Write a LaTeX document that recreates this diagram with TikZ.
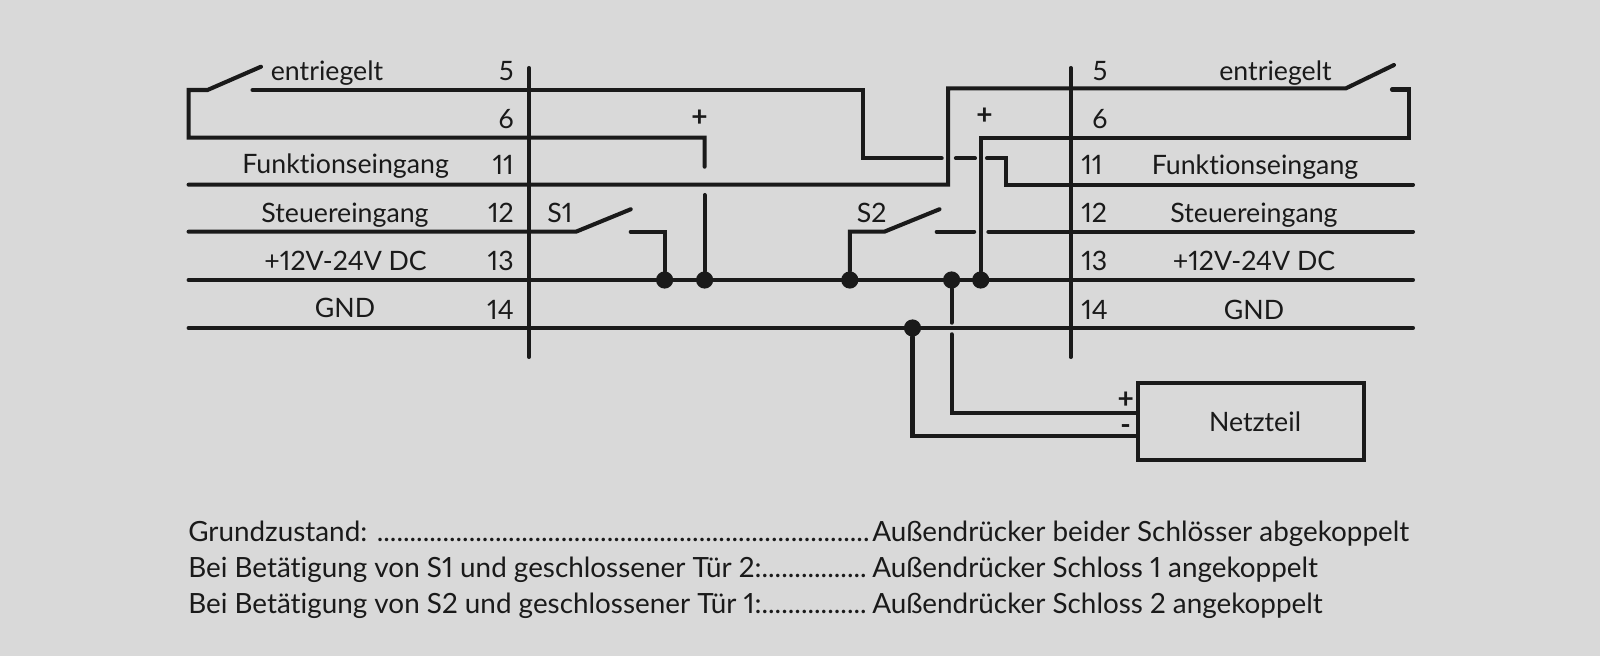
\documentclass[tikz,border=0pt]{standalone}
\usepackage{fontspec}
\setmainfont[Ligatures=NoCommon,Numbers=Proportional]{Lato}
\usepackage{tikz}
\definecolor{bggray}{HTML}{D9D9D9}
\definecolor{wirecol}{HTML}{1A1A1A}
\tikzset{
  wire/.style={line width=2.9pt,wirecol,line cap=round,line join=miter},
  jdot/.style={circle,fill=wirecol,inner sep=0pt,minimum size=0.43cm},
  lbl/.style={anchor=base,inner sep=0pt,text=wirecol,font=\fontsize{19}{22}\selectfont},
  row/.style={anchor=base west,inner sep=0pt,text=wirecol,font=\fontsize{19.8}{22}\selectfont},
  sign/.style={inner sep=0pt,text=wirecol,font=\bfseries\fontsize{20}{22}\selectfont},
}
\begin{document}
\begin{tikzpicture}[x=0.025cm,y=-0.025cm]
            % Define the wire rows
            \def\xL{188.6}
            \def\xR{1413}
            \def\rA{90}
            \def\rB{137.7}
            \def\rC{184.7}
            \def\rD{231.7}
            \def\rE{280}
            \def\rF{328}

            % Background
            \fill[bggray] (0,0) rectangle (1600,656);
            \useasboundingbox (0,0) rectangle (1600,656);

            % Junctions
            \node[jdot] (D1) at (664.6,\rE) {};
            \node[jdot] (D2) at (704.6,\rE) {};
            \node[jdot] (D3) at (849.8,\rE) {};
            \node[jdot] (D4) at (951.6,\rE) {};
            \node[jdot] (D5) at (980.7,\rE) {};
            \node[jdot] (D6) at (912.5,\rF) {};

            % Power supply
            \node[draw=wirecol,line width=3pt,minimum width=5.65cm,minimum height=1.925cm,inner sep=0pt] (NT) at (1251,421.8) {};
            \node[lbl] (NTtext) at (1255,431) {Netzteil};
            \coordinate (Pplus) at (NT.west |- 0,413.3);
            \coordinate (Pminus) at (NT.west |- 0,436.3);

            % End points of the rails
            \coordinate (BL1) at (529,68);
            \coordinate (BL2) at (529,357);
            \coordinate (BR1) at (1070.7,68);
            \coordinate (BR2) at (1070.7,357);
            \coordinate (E0) at (\xL,\rE);
            \coordinate (E1) at (\xR,\rE);
            \coordinate (F0) at (\xL,\rF);
            \coordinate (F1) at (\xR,\rF);

            % Draw the terminal bars and the supply rails
            \draw[wire] (BL1) -- (BL2);
            \draw[wire] (BR1) -- (BR2);
            \draw[wire] (E0) -- (E1);
            \draw[wire] (F0) -- (F1);

            % Left lock: switch and row 6 up to S1 side
            \coordinate (A0) at (252.5,\rA);
            \coordinate (A1) at (863,\rA);
            \coordinate (A2) at (863,158.3);
            \coordinate (A3) at (941.7,158.3);
            \coordinate (A4) at (955.9,158.3);
            \coordinate (A5) at (975,158.3);
            \coordinate (A6) at (987,158.3);
            \coordinate (A7) at (1005.6,158.3);
            \coordinate (A8) at (1005.6,\rC);
            \coordinate (A9) at (\xR,\rC);
            \draw[wire] (A0) -- (A1) -- (A2) -- (A3);
            \draw[wire] (A4) -- (A5);
            \draw[wire] (A6) -- (A7) -- (A8) -- (A9);

            \coordinate (B0) at (261,66.7);
            \coordinate (B1) at (207.5,\rA);
            \coordinate (B2) at (\xL,\rA);
            \coordinate (B3) at (\xL,\rB);
            \coordinate (B4) at (704.6,\rB);
            \coordinate (B5) at (704.6,166.7);
            \coordinate (B6) at (704.6,195);
            \draw[wire] (B0) -- (B1) -- (B2) -- (B3) -- (B4) -- (B5);
            \draw[wire] (B6) -- (D2);

            % Right lock
            \coordinate (G0) at (\xL,\rC);
            \coordinate (G1) at (948.2,\rC);
            \coordinate (G2) at (948.2,88.3);
            \coordinate (G3) at (1346,88.3);
            \coordinate (G4) at (1394,65);
            \draw[wire] (G0) -- (G1) -- (G2) -- (G3) -- (G4);

            \coordinate (H0) at (1392,89.5);
            \coordinate (H1) at (1409.3,89.5);
            \coordinate (H2) at (1409.3,\rB);
            \coordinate (H3) at (980.7,\rB);
            \draw[wire] (H0) -- (H1) -- (H2) -- (H3) -- (D5);

            % Draw S1
            \coordinate (S0) at (\xL,\rD);
            \coordinate (S1) at (576,\rD);
            \coordinate (S2) at (630.7,209.3);
            \coordinate (S3) at (630.7,\rD);
            \coordinate (S4) at (664.6,\rD);
            \draw[wire] (S0) -- (S1) -- (S2);
            \draw[wire] (S3) -- (S4) -- (D1);

            % Draw S2
            \coordinate (T0) at (849.8,\rD);
            \coordinate (T1) at (884.3,\rD);
            \coordinate (T2) at (939.4,209.3);
            \coordinate (T3) at (936.7,\rD);
            \coordinate (T4) at (974.2,\rD);
            \coordinate (T5) at (988.4,\rD);
            \coordinate (T6) at (\xR,\rD);
            \draw[wire] (D3) -- (T0) -- (T1) -- (T2);
            \draw[wire] (T3) -- (T4);
            \draw[wire] (T5) -- (T6);

            % Draw supply feed
            \coordinate (U0) at (951.6,322.7);
            \coordinate (U1) at (951.6,334.3);
            \draw[wire] (D4) -- (U0);
            \draw[wire] (U1) -- (U1 |- Pplus) -- (Pplus);
            \draw[wire] (D6) -- (D6 |- Pminus) -- (Pminus);

            % Left labels
            \node[lbl] (l1) at (327,81) {entriegelt};
            \node[lbl] (l2) at (345.6,173.7) {Funktionseingang};
            \node[lbl] (l3) at (345,222.2) {Steuereingang};
            \node[lbl] (l4) at (345.6,270) {+12V-24V DC};
            \node[lbl] (l5) at (345,318) {GND};

            % Left numbers
            \node[lbl,anchor=base east] (n1) at (514,81) {5};
            \node[lbl,anchor=base east] (n2) at (514,128.7) {6};
            \node[lbl,anchor=base east] (n3) at (514,175) {11};
            \node[lbl,anchor=base east] (n4) at (514,223) {12};
            \node[lbl,anchor=base east] (n5) at (514,270) {13};
            \node[lbl,anchor=base east] (n6) at (514,319) {14};

            % Right labels
            \node[lbl] (r1) at (1275.5,81) {entriegelt};
            \node[lbl] (r2) at (1255,174.3) {Funktionseingang};
            \node[lbl] (r3) at (1254,223) {Steuereingang};
            \node[lbl] (r4) at (1254,270) {+12V-24V DC};
            \node[lbl] (r5) at (1254,319) {GND};

            % Right numbers
            \node[lbl] (m1) at (1100,81) {5};
            \node[lbl] (m2) at (1100,128.7) {6};
            \node[lbl,anchor=base west] (m3) at (1081,174.5) {11};
            \node[lbl,anchor=base west] (m4) at (1081,223) {12};
            \node[lbl,anchor=base west] (m5) at (1081,270) {13};
            \node[lbl,anchor=base west] (m6) at (1081,319) {14};

            % Switch names and signs
            \node[lbl] (sa) at (560,222.7) {S1};
            \node[lbl] (sb) at (871.7,223) {S2};
            \node[sign] (pa) at (699.6,118) {+};
            \node[sign] (pb) at (984.6,116) {+};
            \node[sign] (pc) at (1125.7,400) {+};
            \node[sign,anchor=base] (pd) at (1125.7,434.5) {-};

            % Legend
            \node[row] (w1) at (188,541) {Grundzustand: ...........................................................................};
            \node[row] (w2) at (188,577) {Bei Betätigung von S1 und geschlossener Tür 2:................};
            \node[row] (w3) at (188,613) {Bei Betätigung von S2 und geschlossener Tür 1:................};
            \node[row] (v1) at (872,541) {Außendrücker beider Schlösser abgekoppelt};
            \node[row] (v2) at (872,577) {Außendrücker Schloss 1 angekoppelt};
            \node[row] (v3) at (872,613) {Außendrücker Schloss 2 angekoppelt};
\end{tikzpicture}
\end{document}
